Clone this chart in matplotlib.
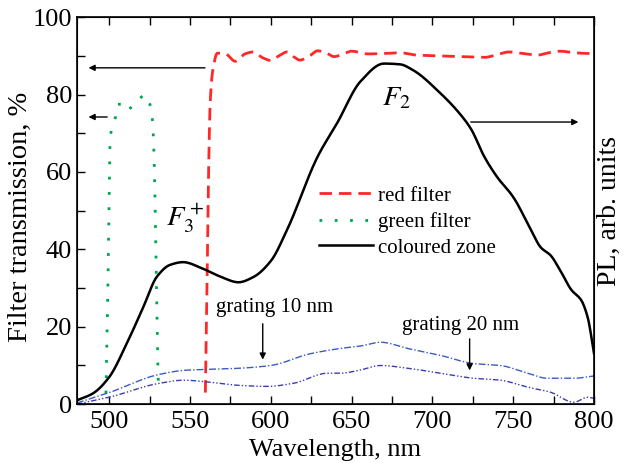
import numpy as np
import matplotlib
matplotlib.use("Agg")
import matplotlib.pyplot as plt
from matplotlib.ticker import MultipleLocator

plt.rcParams["font.family"] = ["Liberation Serif", "DejaVu Serif"]
plt.rcParams["mathtext.fontset"] = "stix"

# red filter transmission
red_wl = [559.5, 560.5, 561.5, 562.5, 564, 567, 572, 578, 584, 589, 595, 600, 605, 610,
          614, 618, 624, 629, 634, 639, 645, 650, 660, 670, 680, 690, 703, 718,
          732, 740, 747, 756, 765, 772, 779, 788, 798, 800]
red_t = [3, 30, 60, 78, 86, 90.7, 90.5, 88.6, 90.5, 91, 89.5, 88.8, 90, 91,
         89.8, 88.9, 90, 91.3, 90.8, 89.8, 90.5, 91.2, 90.5, 90.6, 90.8, 90.2, 90,
         89.8, 89.6, 90.3, 91, 90.6, 90.2, 90.8, 91.2, 90.8, 90.6, 90.7]

# green filter transmission
green_wl = [498, 499, 500, 500.5, 501.5, 503.6, 505.4, 508, 510, 513, 516.6, 519,
            522, 524, 526, 527, 528, 529, 530, 530.5]
green_t = [2.8, 25, 55, 68, 71, 73.6, 77.5, 77.5, 76, 76.5, 77.8, 79, 79.9, 78.5,
           76.3, 72, 60, 35, 12, 4.4]

# PL of coloured zone
pl_wl = [480, 490, 500, 511, 521, 529.6, 537.7, 545.7, 558, 568.6, 580, 589, 600,
         610, 629, 641, 655.5, 670, 680, 688, 705, 717, 724, 732, 740, 750, 761,
         767, 773, 779, 786, 792, 796, 800]
pl = [1, 2.8, 7, 15.8, 25, 33, 36, 36.7, 35, 33, 31.5, 32.8, 37, 45, 64, 72.6,
      83.4, 88, 87.8, 86.3, 80.3, 75, 71, 64, 58.7, 53.5, 45, 40.5, 38.5, 34.6,
      29.5, 26.9, 22.5, 13]

# PL with gratings
g10_wl = [480, 500, 531, 548, 562, 581, 600, 624, 643, 655, 668, 684.6, 705,
          725.5, 742, 759, 771, 787.5, 800]
g10 = [0.3, 3, 7.7, 8.8, 9, 9.3, 10, 13, 14.4, 15, 16, 14.4, 12.6, 10.5, 10, 8,
       6.7, 6.7, 7.3]
g20_wl = [480, 500, 531, 546, 562, 579, 598, 614, 635, 643, 655, 668, 684.6,
          705, 725.5, 742, 759, 773, 787.5, 796, 800]
g20 = [0, 1.8, 5.4, 6.2, 5.7, 4.9, 4.6, 5.4, 8, 8, 8.8, 10, 9.3, 8, 6.7, 6.2,
       4.4, 3.1, 0.5, 1.8, 1.5]


def pchip(x, y, n=600):
    # monotone cubic curve through the read-off points (no overshoot)
    x = np.asarray(x, float); y = np.asarray(y, float)
    h = np.diff(x); delta = np.diff(y) / h
    d = np.zeros_like(y)
    d[0], d[-1] = delta[0], delta[-1]
    for k in range(1, len(x) - 1):
        if delta[k - 1] * delta[k] > 0:
            w1 = 2 * h[k] + h[k - 1]; w2 = h[k] + 2 * h[k - 1]
            d[k] = (w1 + w2) / (w1 / delta[k - 1] + w2 / delta[k])
    xs = np.linspace(x[0], x[-1], n)
    i = np.clip(np.searchsorted(x, xs) - 1, 0, len(x) - 2)
    t = (xs - x[i]) / h[i]
    h00 = 2 * t**3 - 3 * t**2 + 1; h10 = t**3 - 2 * t**2 + t
    h01 = -2 * t**3 + 3 * t**2; h11 = t**3 - t**2
    ys = h00 * y[i] + h10 * h[i] * d[i] + h01 * y[i + 1] + h11 * h[i] * d[i + 1]
    return xs, ys


fig = plt.figure(figsize=(6.3, 4.63), dpi=100)
ax = fig.add_axes([0.122, 0.127, 0.821, 0.836])

x, y = pchip(red_wl, red_t)
ax.plot(x, y, color="#ff2828", lw=2, ls=(0, (4.5, 2.5)), label="red filter")
x, y = pchip(green_wl, green_t)
ax.plot(x, y, color="#00a550", lw=2, ls=(0, (1, 4.5)), label="green filter")
x, y = pchip(pl_wl, pl)
ax.plot(x, y, color="black", lw=1.8, label="coloured zone")
x, y = pchip(g10_wl, g10)
ax.plot(x, y, color="#3c5ac8", lw=1, ls=(0, (5, 1.5, 1, 1.5)))
x, y = pchip(g20_wl, g20)
ax.plot(x, y, color="#3c3cb4", lw=1, ls=(0, (4, 1.5, 1, 1.5, 1, 1.5)))

ax.set_xlim(480, 800)
ax.set_ylim(0, 100)
ax.xaxis.set_major_locator(MultipleLocator(50))
ax.xaxis.set_minor_locator(MultipleLocator(25))
ax.yaxis.set_major_locator(MultipleLocator(20))
ax.yaxis.set_minor_locator(MultipleLocator(10))
ax.tick_params(which="both", direction="in", top=True, right=True,
               labelsize=19, width=1, length=6)
ax.tick_params(axis="x", pad=5)
for s in ax.spines.values():
    s.set_linewidth(1.2)

ax.set_xlabel("Wavelength, nm", fontsize=19, labelpad=4)
ax.set_ylabel("Filter transmission, %", fontsize=20.5)
ax.yaxis.set_label_coords(-0.085, 0.483)
ax2 = ax.twinx()
ax2.set_ylim(0, 100)
ax2.set_yticks([])
ax2.set_ylabel("PL, arb. units", fontsize=20, labelpad=2)

arr = dict(arrowstyle="-|>", color="black", lw=1, mutation_scale=9)
ax.annotate("", xy=(485.5, 86.9), xytext=(561, 86.9), arrowprops=arr)
ax.annotate("", xy=(485.5, 74.2), xytext=(500.5, 74.2), arrowprops=arr)
ax.annotate("", xy=(792, 72.9), xytext=(722, 72.9), arrowprops=arr)
ax.annotate("", xy=(595, 10.8), xytext=(595, 21.5), arrowprops=arr)
ax.annotate("", xy=(723, 8), xytext=(723, 17.6), arrowprops=arr)

ax.text(566, 25, "grating 10 nm", fontsize=15, va="center")
ax.text(681, 20.4, "grating 20 nm", fontsize=15, va="center")
ax.text(535, 48, r"$F_3^+$", fontsize=20.5, va="center")
ax.text(669, 79, r"$F_2$", fontsize=20.5, va="center")

ax.legend(loc="upper left", bbox_to_anchor=(0.452, 0.585), frameon=False,
          fontsize=15, handlelength=2.6, handletextpad=0.25, labelspacing=0.3,
          borderaxespad=0)

fig.savefig("out.png", dpi=100)
